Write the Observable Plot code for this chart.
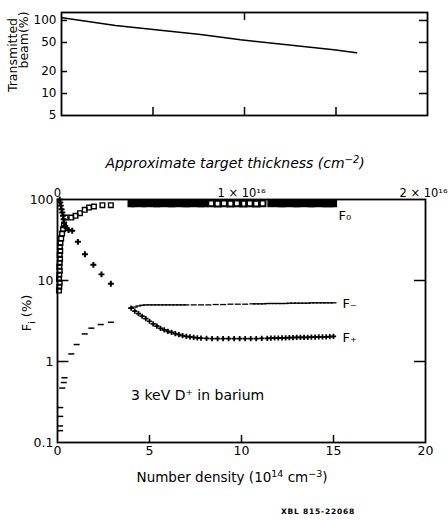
<!DOCTYPE html>
<html><head><meta charset="utf-8">
<script src="https://cdn.jsdelivr.net/npm/d3@7"></script>
<script src="https://cdn.jsdelivr.net/npm/@observablehq/plot@0.6"></script>
<style>
body{margin:0;background:#fff;}
#root{position:relative;width:448px;height:520px;overflow:hidden;background:#fff;font-family:'DejaVu Sans',sans-serif;color:#000;}
.lbl{position:absolute;white-space:nowrap;text-align:center;}
.rot{transform:rotate(-90deg);transform-origin:center center;}
#top,#bottom{position:absolute;left:0;}
sup{font-size:70%;line-height:0;vertical-align:0.55em;}
</style></head><body>
<div id="root">
  <div id="top" style="top:0px"></div>
  <div id="bottom" style="top:150px"></div>
  <div class="lbl rot" style="left:-37px;top:47px;width:100px;height:16px;line-height:16px;font-size:12.5px;">Transmitted</div>
  <div class="lbl rot" style="left:-26px;top:32px;width:100px;height:16px;line-height:16px;font-size:12.5px;">beam(%)</div>
  <div class="lbl" style="left:75px;top:154px;width:320px;height:18px;line-height:18px;font-size:14px;font-style:italic;">Approximate target thickness (cm<sup>−2</sup>)</div>
  <div class="lbl rot" style="left:-13px;top:305px;width:80px;height:16px;line-height:16px;font-size:13px;">F<sub style="font-size:70%">i</sub> (%)</div>
  <div class="lbl" style="left:72px;top:468px;width:320px;height:18px;line-height:18px;font-size:13.5px;">Number density (10<sup>14</sup> cm<sup>−3</sup>)</div>
  <div class="lbl" style="left:268px;top:507px;width:100px;height:10px;line-height:10px;font-size:7.5px;font-weight:bold;letter-spacing:0.8px;">XBL 815-22068</div>
</div>
<script>
// ---------- data ----------
// top panel: transmitted beam (%) vs number density
const transX = [0.04, 2.95, 7.6, 9.78, 14.88, 16.12];
const transY = [109, 85.4, 64.3, 54.4, 39.7, 36.1];
const topYTicks = [5, 10, 20, 50, 100];
const topXTicks = [5, 10, 15];
const topEdgeTicks = [10];

// bottom panel axes
const xTicks = [0, 5, 10, 15, 20];
const lowYTicks = [0.1, 1, 10, 100];
const lowYTickLabels = ["0.1", "1", "10", "100"];
const lowSideTicks = [1, 10];
const lowEdgeTicks = [10];
const thickX = [0, 10];
const thickLabels = ["0", "1 × 10¹⁶"];
const thickEndX = [20];
const thickEndLabels = ["2 × 10¹⁶"];

// F0 (open squares)
const f0EarlyX = [0.08,0.10,0.12,0.08,0.10,0.12,0.10,0.12,0.14,0.12,0.15,0.13,0.16,0.20,0.25,0.30,0.35,0.44,0.75,0.98,1.22,1.48,1.71,1.98,2.44,2.90];
const f0EarlyY = [7.5,8.4,9.4,10.5,11.8,13.2,14.8,16.5,18.5,20.7,23.2,26,29,33,38,43,48,59.9,59.9,62.9,67.7,74.6,79.6,82.0,85.0,85.0];
const f0DenseX = [4.0,4.2,4.4,4.6,4.8,5.0,5.2,5.4,5.6,5.8,6.0,6.2,6.4,6.6,6.8,7.0,7.2,7.4,7.6,7.8,8.0,
                  11.6,11.8,12.0,12.2,12.4,12.6,12.8,13.0,13.2,13.4,13.6,13.8,14.0,14.2,14.4,14.6,14.8,15.0];
const f0DenseY = [89,89,89.5,89,89,89.5,89,89,89,89.5,89,89,89,89.5,89,89,89,89.5,89,89,89,
                  89,89.5,89,89,89,89.5,89,89,89,89.5,89,89,89,89.5,89,89,89,89];
const f0SparseX = [8.35,8.7,9.05,9.4,9.75,10.1,10.45,10.8,11.15];
const f0SparseY = [89.5,89,89.5,89,89.5,89,89.5,89,89.5];

// F+ (crosses)
const fpEarlyX = [0.12,0.15,0.18,0.22,0.26,0.30,0.33,0.36,0.42,0.50,0.60,0.80,1.11,1.49,1.95,2.39,2.90];
const fpEarlyY = [100,92,84,76,69,63,57,52,47,44,42,41.1,30.0,21.1,15.6,11.9,9.1];
const fpBandX = [4.0,4.2,4.4,4.6,4.8,5.0,5.2,5.4,5.6,5.8,6.0,6.2,6.4,6.6,6.8,7.0,7.2,7.4,7.6,7.8,
                 8.1,8.4,8.7,9.0,9.3,9.6,9.9,10.2,10.5,10.8,11.1,11.4,
                 11.6,11.8,12.0,12.2,12.4,12.6,12.8,13.0,13.2,13.4,13.6,13.8,14.0,14.2,14.4,14.6,14.8,15.0];
const fpBandY = [4.55,4.2,3.9,3.62,3.38,3.14,2.92,2.74,2.56,2.45,2.36,2.29,2.21,2.14,2.08,2.04,2.01,1.98,1.96,1.94,
                 1.93,1.92,1.92,1.91,1.91,1.91,1.91,1.91,1.91,1.92,1.93,1.93,
                 1.94,1.95,1.95,1.96,1.96,1.97,1.97,1.98,1.98,1.99,1.99,2.0,2.0,2.01,2.02,2.02,2.03,2.04];

// F- (dashes)
const fmEarlyX = [0.14,0.14,0.15,0.15,0.26,0.34,0.38,0.75,1.04,1.48,1.84,2.35,2.90];
const fmEarlyY = [0.14,0.16,0.21,0.27,0.47,0.55,0.63,1.24,1.62,2.19,2.58,2.86,3.05];
const fmBandX = [4.0,4.2,4.4,4.6,4.8,5.0,5.2,5.4,5.6,5.8,6.0,6.2,6.4,6.6,6.8,7.0,
                 7.4,7.8,8.2,8.6,9.0,9.4,9.8,10.2,10.6,
                 10.8,11.0,11.2,11.4,11.6,11.8,12.0,12.2,12.4,12.6,12.8,13.0,13.2,13.4,13.6,13.8,14.0,14.2,14.4,14.6,14.8,15.0];
const fmBandY = [4.55,4.7,4.85,4.95,5.0,5.0,5.0,5.0,5.0,5.0,5.0,5.0,5.0,5.0,5.0,5.0,
                 5.0,5.0,5.0,5.05,5.05,5.1,5.1,5.1,5.15,
                 5.15,5.15,5.15,5.2,5.2,5.2,5.2,5.2,5.2,5.25,5.25,5.25,5.25,5.25,5.25,5.3,5.3,5.3,5.3,5.3,5.3,5.3];

const seriesLabels = ["F₀", "F₋", "F₊"];
const noteText = "3 keV D⁺ in barium";

// ---------- helpers ----------
const pts = (xs, ys) => xs.map((x, i) => ({x, y: ys[i]}));
const font = "'DejaVu Sans', sans-serif";
const dash = {draw(ctx, size) { const w = Math.sqrt(size) * 0.85; ctx.moveTo(-w, 0); ctx.lineTo(w, 0); }};

// ---------- top panel ----------
const topPlot = Plot.plot({
  width: 448, height: 125,
  marginLeft: 61, marginRight: 21, marginTop: 12, marginBottom: 10,
  style: {fontFamily: font, fontSize: "12px", color: "black", background: "transparent"},
  x: {domain: [0, 20], axis: null},
  y: {type: "log", domain: [5, 128.6], ticks: topYTicks, tickFormat: d => String(d), tickSize: 0, tickPadding: 5, label: null},
  marks: [
    Plot.frame({stroke: "black", strokeWidth: 1.8}),
    Plot.ruleY(topYTicks.slice(1), {y: d => d, x1: 0, x2: 0.33, stroke: "black", strokeWidth: 1.5}),
    Plot.ruleY(topYTicks.slice(1), {y: d => d, x1: 19.56, x2: 20, stroke: "black", strokeWidth: 1.5}),
    Plot.ruleX(topXTicks, {x: d => d, y1: 5, y2: 6.43, stroke: "black", strokeWidth: 1.5}),
    Plot.ruleX(topEdgeTicks, {x: d => d, y1: 128.6, y2: 100, stroke: "black", strokeWidth: 1.5}),
    Plot.line(pts(transX, transY), {x: "x", y: "y", stroke: "black", strokeWidth: 1.6})
  ]
});
document.getElementById("top").appendChild(topPlot);

// ---------- bottom panel ----------
const f0End = {x: f0DenseX[f0DenseX.length - 1], y: f0DenseY[f0DenseY.length - 1]};
const fmEnd = {x: fmBandX[fmBandX.length - 1], y: fmBandY[fmBandY.length - 1]};
const fpEnd = {x: fpBandX[fpBandX.length - 1], y: fpBandY[fpBandY.length - 1]};

const lowPlot = Plot.plot({
  width: 448, height: 320,
  marginLeft: 57, marginRight: 23, marginTop: 49, marginBottom: 28,
  style: {fontFamily: font, fontSize: "12.5px", color: "black", background: "transparent"},
  x: {domain: [0, 20], ticks: xTicks, tickFormat: d => String(d), tickSize: 0, tickPadding: 4, label: null},
  y: {type: "log", domain: [0.1, 100], ticks: lowYTicks, tickFormat: d => lowYTickLabels[lowYTicks.indexOf(d)], tickSize: 0, tickPadding: 4, label: null},
  marks: [
    Plot.frame({stroke: "black", strokeWidth: 1.8}),
    Plot.ruleY(lowSideTicks, {y: d => d, x1: 0, x2: 0.62, stroke: "black", strokeWidth: 1.5}),
    Plot.ruleY(lowSideTicks, {y: d => d, x1: 19.4, x2: 20, stroke: "black", strokeWidth: 1.5}),
    Plot.ruleX(xTicks.slice(1, 4), {x: d => d, y1: 0.1, y2: 0.122, stroke: "black", strokeWidth: 1.5}),
    Plot.ruleX(lowEdgeTicks, {x: d => d, y1: 100, y2: 82, stroke: "black", strokeWidth: 1.5}),
    Plot.text(thickX, {x: d => d, text: (d, i) => thickLabels[i], frameAnchor: "top", dy: -11, fontSize: 11.5}),
    Plot.text(thickEndX, {x: d => d, text: (d, i) => thickEndLabels[i], frameAnchor: "top", dy: -11, dx: -2, fontSize: 11.5}),
    // F0
    Plot.dot(pts(f0EarlyX, f0EarlyY), {x: "x", y: "y", symbol: "square", r: 2.6, fill: "none", stroke: "black", strokeWidth: 1.4}),
    Plot.dot(pts(f0DenseX, f0DenseY), {x: "x", y: "y", symbol: "square", r: 3.2, fill: "black", stroke: "black", strokeWidth: 1.5}),
    Plot.dot(pts(f0SparseX, f0SparseY), {x: "x", y: "y", symbol: "square", r: 3.2, fill: "none", stroke: "black", strokeWidth: 2}),
    // F+
    Plot.dot(pts(fpEarlyX, fpEarlyY), {x: "x", y: "y", symbol: "cross", r: 2.5, fill: "black", stroke: "none"}),
    Plot.dot(pts(fpBandX, fpBandY), {x: "x", y: "y", symbol: "cross", r: 2.2, fill: "black", stroke: "none"}),
    // F-
    Plot.dot(pts(fmEarlyX, fmEarlyY), {x: "x", y: "y", symbol: dash, r: 2, fill: "none", stroke: "black", strokeWidth: 1.5}),
    Plot.dot(pts(fmBandX, fmBandY), {x: "x", y: "y", symbol: dash, r: 2, fill: "none", stroke: "black", strokeWidth: 1.3}),
    // labels
    Plot.text([f0End], {x: "x", y: "y", text: () => seriesLabels[0], textAnchor: "start", dx: 5, dy: 12, fontSize: 13}),
    Plot.text([fmEnd], {x: "x", y: "y", text: () => seriesLabels[1], textAnchor: "start", dx: 9, dy: 1, fontSize: 13}),
    Plot.text([fpEnd], {x: "x", y: "y", text: () => seriesLabels[2], textAnchor: "start", dx: 9, dy: 1, fontSize: 13}),
    Plot.text([{x: 4.0, y: 0.38}], {x: "x", y: "y", text: () => noteText, textAnchor: "start", fontSize: 14})
  ]
});
document.getElementById("bottom").appendChild(lowPlot);
</script>
</body></html>
